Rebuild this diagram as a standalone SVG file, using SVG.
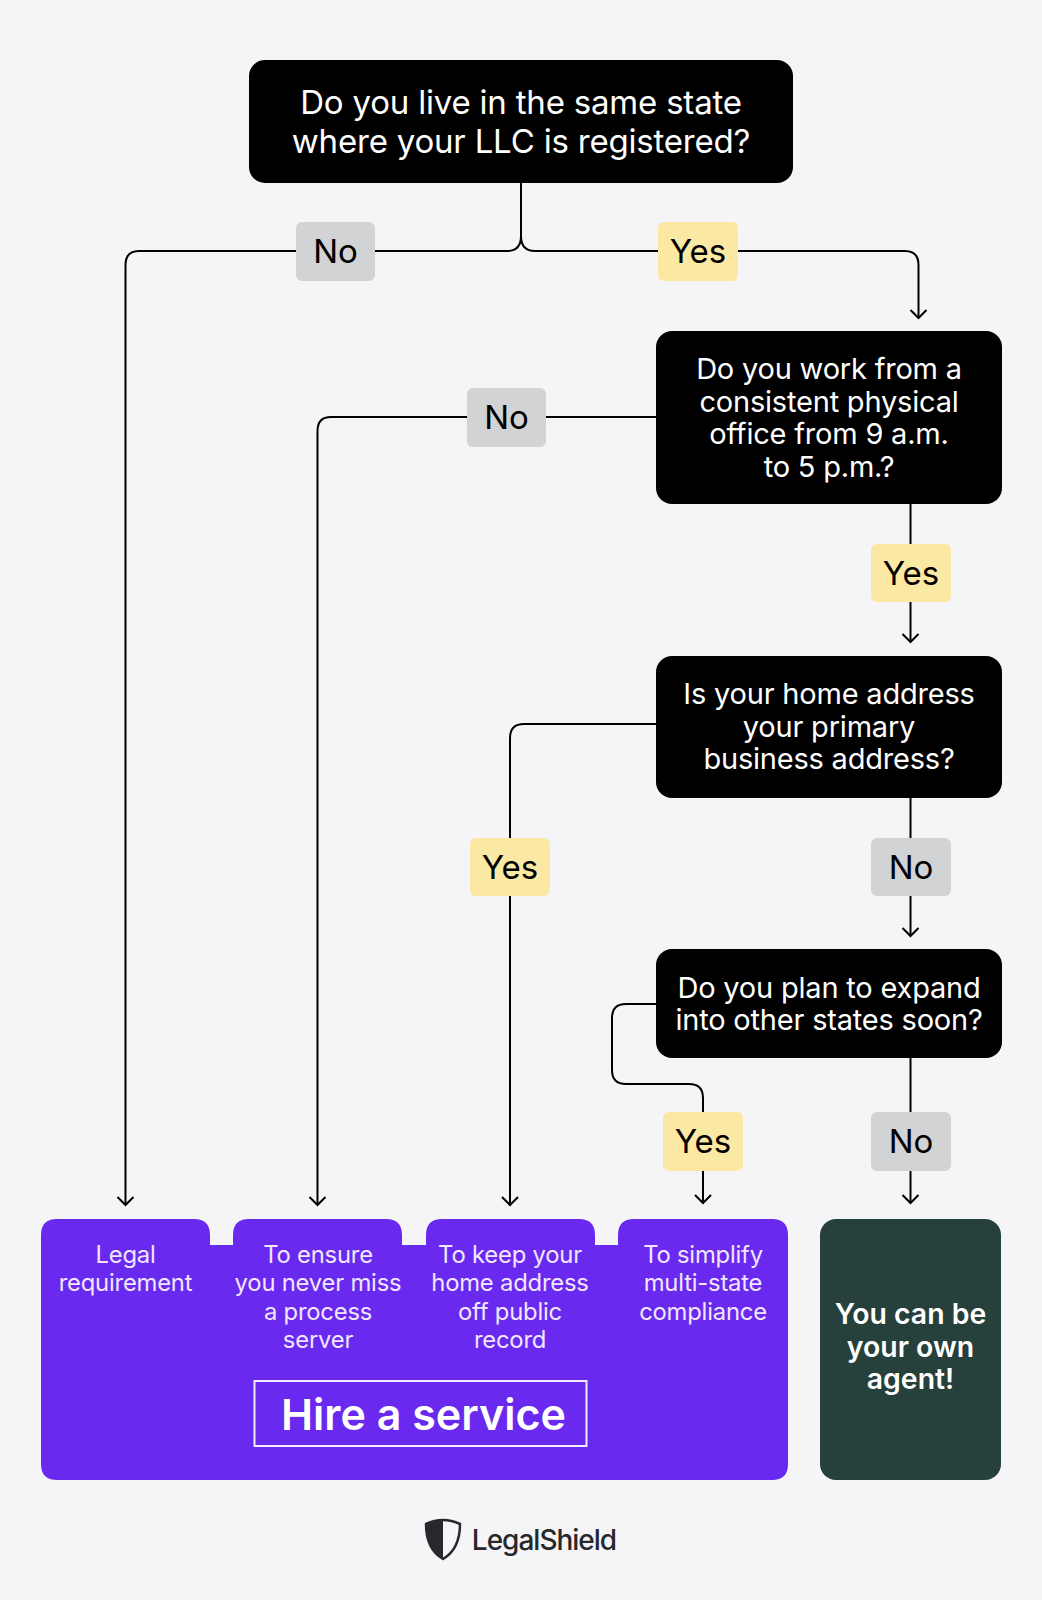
<svg xmlns="http://www.w3.org/2000/svg" width="1042" height="1600" viewBox="0 0 1042 1600">
<style>
text{font-family:Inter,"Liberation Sans",sans-serif;text-anchor:middle}
.q{fill:#fff;font-size:29px;letter-spacing:-.2px}
.big{font-size:33px}
.l{fill:#000;font-size:33px}
.p{fill:#f0e6ff;font-size:23.800px;letter-spacing:-.2px}
.ag{fill:#fff;font-size:28.400px;font-weight:600}
.box{fill:#000}
.no{fill:#d1d3d5}
.yes{fill:#fbe8a3}
.c{fill:none;stroke:#000;stroke-width:2}
</style>
<defs><marker id="a" markerUnits="userSpaceOnUse" markerWidth="20" markerHeight="20" refX="10" refY="10" orient="auto"><path d="M2 2L10 10L2 18" fill="none" stroke="#000" stroke-width="2"/></marker></defs>
<rect width="1042" height="1600" fill="#f5f5f7"/>
<g id="connectors" class="c">
<path d="M521 183V236Q521 251 507 251H139Q125.500 251 125.500 265V1205" marker-end="url(#a)"/>
<path d="M521 236Q521 251 535 251H905Q918.500 251 918.500 265V318" marker-end="url(#a)"/>
<path d="M656 417H331Q317.500 417 317.500 431V1205" marker-end="url(#a)"/>
<path d="M910.500 504V642" marker-end="url(#a)"/>
<path d="M656 724H524Q510 724 510 738V1205" marker-end="url(#a)"/>
<path d="M910.500 798V936" marker-end="url(#a)"/>
<path d="M656 1004H626Q612 1004 612 1018V1070Q612 1084 626 1084H689Q703 1084 703 1098V1203" marker-end="url(#a)"/>
<path d="M910.500 1058V1203" marker-end="url(#a)"/>
</g>
<g id="q1"><rect class="box" x="249" y="60" width="544" height="123" rx="16"/><text class="q big" x="521" y="114">Do you live in the same state</text><text class="q big" x="521" y="153">where your LLC is registered?</text></g>
<g id="q2"><rect class="box" x="656" y="331" width="346" height="173" rx="16"/><text class="q" x="829" y="379">Do you work from a</text><text class="q" x="829" y="412">consistent physical</text><text class="q" x="829" y="444">office from 9 a.m.</text><text class="q" x="829" y="477">to 5 p.m.?</text></g>
<g id="q3"><rect class="box" x="656" y="656" width="346" height="142" rx="16"/><text class="q" x="829" y="704">Is your home address</text><text class="q" x="829" y="737">your primary</text><text class="q" x="829" y="769">business address?</text></g>
<g id="q4"><rect class="box" x="656" y="949" width="346" height="109" rx="16"/><text class="q" x="829" y="998">Do you plan to expand</text><text class="q" x="829" y="1030">into other states soon?</text></g>
<g id="l1"><rect class="no" x="296" y="222" width="79" height="59" rx="6"/><text class="l" x="335.500" y="263">No</text></g>
<g id="l2"><rect class="yes" x="658" y="222" width="80" height="59" rx="6"/><text class="l" x="698" y="263">Yes</text></g>
<g id="l3"><rect class="no" x="467" y="388" width="79" height="59" rx="6"/><text class="l" x="506.500" y="429">No</text></g>
<g id="l4"><rect class="yes" x="871" y="544" width="80" height="58" rx="6"/><text class="l" x="911" y="585">Yes</text></g>
<g id="l5"><rect class="yes" x="470" y="838" width="80" height="58" rx="6"/><text class="l" x="510" y="879">Yes</text></g>
<g id="l6"><rect class="no" x="871" y="838" width="80" height="58" rx="6"/><text class="l" x="911" y="879">No</text></g>
<g id="l7"><rect class="yes" x="663" y="1112" width="80" height="59" rx="6"/><text class="l" x="703" y="1153">Yes</text></g>
<g id="l8"><rect class="no" x="871" y="1112" width="80" height="59" rx="6"/><text class="l" x="911" y="1153">No</text></g>
<g id="service">
<path fill="#6a29ee" d="M57 1219H194Q210 1219 210 1235V1245H233V1235Q233 1219 249 1219H386Q402 1219 402 1235V1245H426V1235Q426 1219 442 1219H579Q595 1219 595 1235V1245H618V1235Q618 1219 634 1219H772Q788 1219 788 1235V1464Q788 1480 772 1480H57Q41 1480 41 1464V1235Q41 1219 57 1219Z"/>
<text class="p" x="125.500" y="1263">Legal</text><text class="p" x="125.500" y="1291">requirement</text>
<text class="p" x="318" y="1263">To ensure</text><text class="p" x="318" y="1291">you never miss</text><text class="p" x="318" y="1320">a process</text><text class="p" x="318" y="1348">server</text>
<text class="p" x="510" y="1263">To keep your</text><text class="p" x="510" y="1291">home address</text><text class="p" x="510" y="1320">off public</text><text class="p" x="510" y="1348">record</text>
<text class="p" x="703" y="1263">To simplify</text><text class="p" x="703" y="1291">multi-state</text><text class="p" x="703" y="1320">compliance</text>
<rect x="254.500" y="1381" width="332" height="65" fill="none" stroke="#f3ecff" stroke-width="2"/>
<text x="423.500" y="1430" fill="#fff" font-size="43" font-weight="600">Hire a service</text>
</g>
<g id="agent"><rect x="820" y="1219" width="181" height="261" rx="16" fill="#26403c"/><text class="ag" x="910.500" y="1324">You can be</text><text class="ag" x="910.500" y="1357">your own</text><text class="ag" x="910.500" y="1389">agent!</text></g>
<g id="logo">
<path d="M426 1524Q443 1516 460 1524C460 1540 455 1552 443 1559C431 1552 426 1540 426 1524Z" fill="#f5f5f7" stroke="#26282b" stroke-width="2.500"/>
<path d="M426 1524Q435 1520 443 1520V1559C431 1552 426 1540 426 1524Z" fill="#26282b"/>
<text x="544" y="1550" fill="#26282b" font-size="28" font-weight="500" letter-spacing="-1">LegalShield</text>
</g>
</svg>
